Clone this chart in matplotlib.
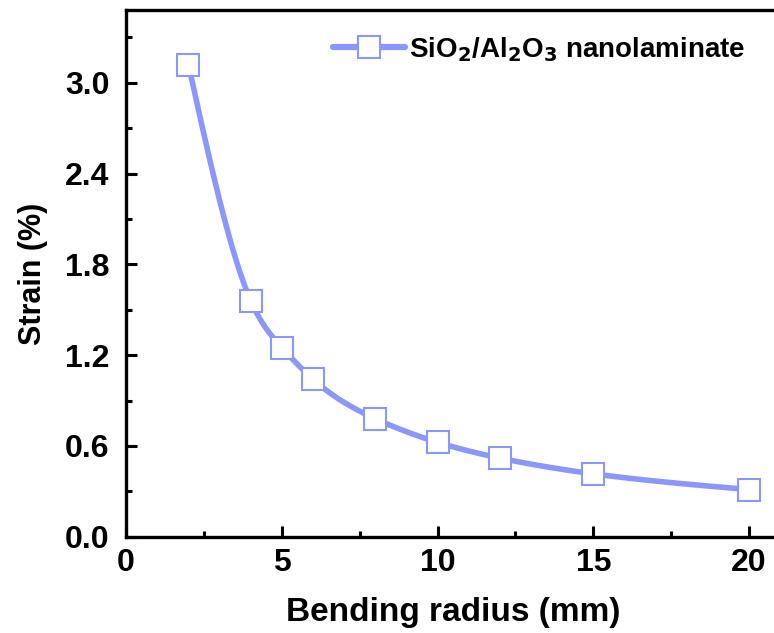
import numpy as np
import matplotlib.pyplot as plt
from matplotlib.ticker import MultipleLocator

plt.rcParams['font.family'] = ['Liberation Sans', 'DejaVu Sans']
plt.rcParams['font.weight'] = 'bold'
plt.rcParams['mathtext.default'] = 'bf'

radius = [2, 4, 5, 6, 8, 10, 12, 15, 20]
strain = [3.12, 1.56, 1.25, 1.04, 0.78, 0.624, 0.52, 0.416, 0.312]
label = r'SiO$_\mathbf{2}$/Al$_\mathbf{2}$O$_\mathbf{3}$ nanolaminate'
color = '#8c96ff'


def natural_spline(x, y, n=400):
    x = np.asarray(x, float)
    y = np.asarray(y, float)
    k = len(x)
    h = np.diff(x)
    A = np.zeros((k, k))
    b = np.zeros(k)
    A[0, 0] = A[-1, -1] = 1
    for i in range(1, k - 1):
        A[i, i - 1] = h[i - 1]
        A[i, i] = 2 * (h[i - 1] + h[i])
        A[i, i + 1] = h[i]
        b[i] = 6 * ((y[i + 1] - y[i]) / h[i] - (y[i] - y[i - 1]) / h[i - 1])
    m = np.linalg.solve(A, b)
    xs = np.linspace(x[0], x[-1], n)
    j = np.clip(np.searchsorted(x, xs) - 1, 0, k - 2)
    t0 = x[j + 1] - xs
    t1 = xs - x[j]
    hj = h[j]
    ys = (m[j] * t0 ** 3 + m[j + 1] * t1 ** 3) / (6 * hj) \
        + (y[j] / hj - m[j] * hj / 6) * t0 + (y[j + 1] / hj - m[j + 1] * hj / 6) * t1
    return xs, ys


fig = plt.figure(figsize=(7.74, 6.33), dpi=100)
ax = fig.add_axes([0.163, 0.152, 0.845, 0.832])

xs, ys = natural_spline(radius, strain)
ax.plot(xs, ys, color=color, lw=4, solid_capstyle='round', zorder=2)
ax.plot(radius, strain, ls='none', marker='s', ms=15.5, mfc='white',
        mec=color, mew=1.5, zorder=3)
ax.plot([], [], color=color, lw=4.5, marker='s', ms=15.5, mfc='white',
        mec=color, mew=1.5, solid_capstyle='round', label=label)

ax.set_xlim(0, 21)
ax.set_ylim(0, 3.48)
ax.xaxis.set_major_locator(MultipleLocator(5))
ax.xaxis.set_minor_locator(MultipleLocator(2.5))
ax.yaxis.set_major_locator(MultipleLocator(0.6))
ax.yaxis.set_minor_locator(MultipleLocator(0.3))
ax.yaxis.set_major_formatter(plt.FuncFormatter(lambda v, p: f'{v:.1f}'))

for s in ax.spines.values():
    s.set_linewidth(2.4)
ax.tick_params(which='both', direction='in', width=2.2, labelsize=23,
               top=False, right=False)
ax.tick_params(which='major', length=8)
ax.tick_params(which='minor', length=4)
ax.tick_params(axis='x', pad=8)
ax.tick_params(axis='y', pad=12)

ax.set_xlabel('Bending radius (mm)', fontsize=24, fontweight='bold', labelpad=14)
ax.set_ylabel('Strain (%)', fontsize=22, fontweight='bold', labelpad=12)

ax.legend(loc='upper right', frameon=False, fontsize=20, handlelength=2.6,
          handletextpad=0.15, borderaxespad=0.5, bbox_to_anchor=(0.985, 1.0))

fig.savefig('out.png', dpi=100)
